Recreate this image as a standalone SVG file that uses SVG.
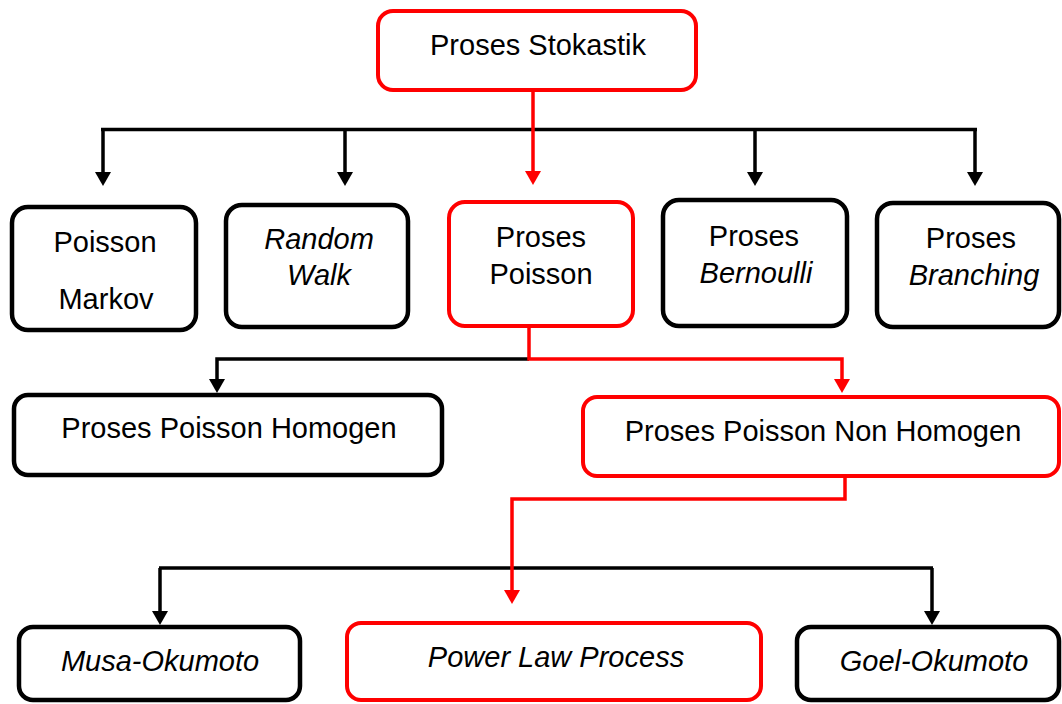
<svg xmlns="http://www.w3.org/2000/svg" width="1062" height="704" viewBox="0 0 1062 704">
<style>
.box{fill:#fff;stroke:#000;stroke-width:4.5}
.red{fill:#fff;stroke:#ff0000;stroke-width:4}
.t{font-family:"Liberation Sans",Arial,sans-serif;font-size:29px;fill:#000;text-anchor:middle}
.i{font-style:italic}
.cb{fill:none;stroke:#000;stroke-width:3.5}
.cr{fill:none;stroke:#ff0000;stroke-width:3.5}
</style>
<defs>
<marker id="ab" viewBox="0 0 14 16" refX="10" refY="8" markerWidth="14" markerHeight="16" markerUnits="userSpaceOnUse" orient="auto"><path d="M0,0 L14,8 L0,16 z" fill="#000"/></marker>
<marker id="ar" viewBox="0 0 14 16" refX="10" refY="8" markerWidth="14" markerHeight="16" markerUnits="userSpaceOnUse" orient="auto"><path d="M0,0 L14,8 L0,16 z" fill="#ff0000"/></marker>
</defs>
<rect width="1062" height="704" fill="#fff"/>
<g id="connectors">
<path class="cb" d="M101,129.5 H977"/>
<path class="cb" d="M103,129.5 V182" marker-end="url(#ab)"/>
<path class="cb" d="M345,129.5 V182" marker-end="url(#ab)"/>
<path class="cb" d="M755,129.5 V182" marker-end="url(#ab)"/>
<path class="cb" d="M975,129.5 V182" marker-end="url(#ab)"/>
<path class="cr" d="M533,90 V181" marker-end="url(#ar)"/>
<path class="cb" d="M529,359 H217 V389" marker-end="url(#ab)"/>
<path class="cr" d="M529,327 V359 H842 V389" marker-end="url(#ar)"/>
<path class="cb" d="M159,568 H933"/>
<path class="cb" d="M160,568 V621" marker-end="url(#ab)"/>
<path class="cb" d="M932,568 V621" marker-end="url(#ab)"/>
<path class="cr" d="M845,477 V499 H512 V600" marker-end="url(#ar)"/>
</g>
<g id="n-stokastik"><rect class="red" x="378" y="11" width="318" height="79" rx="15"/><text class="t" x="538" y="55">Proses Stokastik</text></g>
<g id="n-markov"><rect class="box" x="12" y="207" width="184" height="123" rx="16"/><text class="t" x="105" y="252">Poisson</text><text class="t" x="106" y="309">Markov</text></g>
<g id="n-random"><rect class="box" x="226" y="205" width="182" height="122" rx="16"/><text class="t i" x="319" y="249">Random</text><text class="t i" x="319" y="285">Walk</text></g>
<g id="n-poisson"><rect class="red" x="449" y="202" width="184" height="124" rx="16"/><text class="t" x="541" y="247">Proses</text><text class="t" x="541" y="284">Poisson</text></g>
<g id="n-bernoulli"><rect class="box" x="663" y="200" width="184" height="126" rx="16"/><text class="t" x="754" y="246">Proses</text><text class="t i" x="756" y="283">Bernoulli</text></g>
<g id="n-branching"><rect class="box" x="877" y="203" width="182" height="124" rx="16"/><text class="t" x="971" y="248">Proses</text><text class="t i" x="974" y="285">Branching</text></g>
<g id="n-homogen"><rect class="box" x="14" y="395" width="428" height="80" rx="14"/><text class="t" x="229" y="438">Proses Poisson Homogen</text></g>
<g id="n-nonhomogen"><rect class="red" x="583" y="397" width="476" height="79" rx="14"/><text class="t" x="823" y="441">Proses Poisson Non Homogen</text></g>
<g id="n-musa"><rect class="box" x="19" y="627" width="281" height="73" rx="14"/><text class="t i" x="160" y="671">Musa-Okumoto</text></g>
<g id="n-powerlaw"><rect class="red" x="347" y="623" width="414" height="77" rx="14"/><text class="t i" x="556" y="667">Power Law Process</text></g>
<g id="n-goel"><rect class="box" x="797" y="627" width="262" height="73" rx="14"/><text class="t i" x="934" y="671">Goel-Okumoto</text></g>
</svg>
